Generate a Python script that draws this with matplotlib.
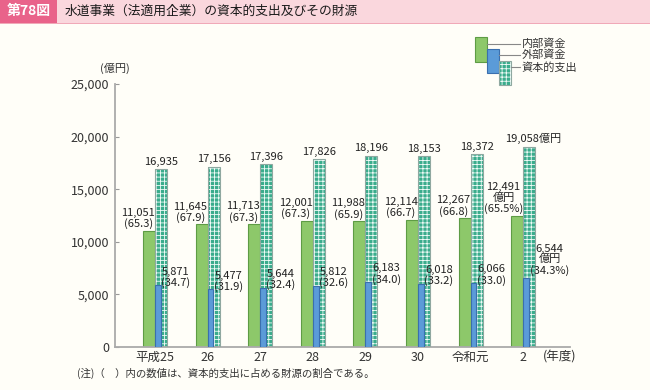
import matplotlib.pyplot as plt
import matplotlib.patches as mpatches
import numpy as np

plt.rcParams['font.family'] = ['Noto Sans CJK JP', 'DejaVu Sans']
plt.rcParams['hatch.linewidth'] = 0.6

years = ['平成25', '26', '27', '28', '29', '30', '令和元', '2']
naibu = [11051, 11645, 11713, 12001, 11988, 12114, 12267, 12491]
gaibu = [5871, 5477, 5644, 5812, 6183, 6018, 6066, 6544]
shishutsu = [16935, 17156, 17396, 17826, 18196, 18153, 18372, 19058]
naibu_pct = [65.3, 67.9, 67.3, 67.3, 65.9, 66.7, 66.8, 65.5]
gaibu_pct = [34.7, 31.9, 32.4, 32.6, 34.0, 33.2, 33.0, 34.3]

bg = '#fffef8'
green = '#8dc86a'
green_e = '#5e9c45'
blue = '#5b9bd8'
blue_e = '#3a6fae'
teal = '#3aac8c'
txt = '#222222'

fig = plt.figure(figsize=(6.5, 3.9), dpi=100, facecolor=bg)
ax = fig.add_axes([115/650, 1-347/390, 455/650, 263/390], facecolor=bg)

x = np.arange(len(years))
w = 0.228
wb = 0.11

ax.bar(x - w, naibu, w, align='edge', color=green, edgecolor=green_e, linewidth=0.8, zorder=2)
ax.bar(x, shishutsu, w, align='edge', color=teal, edgecolor='#f0fbf7', linewidth=0,
       hatch='++++', zorder=2)
ax.bar(x, shishutsu, w, align='edge', fill=False, edgecolor='#8fa8a0', linewidth=0.8, zorder=3)
ax.bar(x, gaibu, wb, align='edge', color=blue, edgecolor=blue_e, linewidth=0.8, zorder=4)

n = len(years)
for i in range(n):
    if i < n - 1:
        ax.text(x[i], naibu[i] + 120, '{:,}\n({:.1f})'.format(naibu[i], naibu_pct[i]),
                ha='right', va='bottom', multialignment='center', fontsize=8,
                linespacing=1.05, color=txt, zorder=5)
        ax.text(x[i] + w/2, shishutsu[i] + 200, '{:,}'.format(shishutsu[i]),
                ha='center', va='bottom', fontsize=8, color=txt, zorder=5)
        ax.text(x[i] + wb + 0.01, gaibu[i] - 250, '{:,}\n({:.1f})'.format(gaibu[i], gaibu_pct[i]),
                ha='left', va='bottom', multialignment='center', fontsize=8,
                linespacing=1.05, color=txt, zorder=5)
    else:
        ax.text(x[i], naibu[i] + 120, '{:,}\n億円\n({:.1f}%)'.format(naibu[i], naibu_pct[i]),
                ha='right', va='bottom', multialignment='center', fontsize=8,
                linespacing=1.05, color=txt, zorder=5)
        ax.text(x[i] - 0.35, shishutsu[i] + 200, '{:,}億円'.format(shishutsu[i]),
                ha='left', va='bottom', fontsize=8, color=txt, zorder=5)
        ax.text(x[i] + wb + 0.02, gaibu[i] + 250, '{:,}\n億円\n({:.1f}%)'.format(gaibu[i], gaibu_pct[i]),
                ha='left', va='bottom', multialignment='center', fontsize=8,
                linespacing=1.05, color=txt, zorder=5)

ax.set_xlim(-0.76, 7.89)
ax.set_ylim(0, 25000)
ax.set_yticks(range(0, 25001, 5000))
ax.set_yticklabels(['{:,}'.format(v) for v in range(0, 25001, 5000)])
ax.set_xticks(x)
ax.set_xticklabels(years)
ax.tick_params(axis='y', direction='in', length=3, color='#999999', labelsize=9,
               labelcolor='#333333', pad=4)
ax.tick_params(axis='x', length=0, labelsize=9, labelcolor='#333333', pad=3)
for s in ['top', 'right']:
    ax.spines[s].set_visible(False)
for s in ['left', 'bottom']:
    ax.spines[s].set_color('#aaaaaa')
    ax.spines[s].set_linewidth(1.3)

fig.text(115/650, 1-68/390, '(億円)', ha='center', va='center', fontsize=8, color='#333333')
fig.text(543/650, 1-357/390, '(年度)', ha='left', va='center', fontsize=9, color='#333333')
fig.text(77/650, 1-373/390, '(注)（　）内の数値は、資本的支出に占める財源の割合である。',
         ha='left', va='center', fontsize=7.5, color='#333333')

# title bar
fig.patches.append(mpatches.Rectangle((0, 1-23/390), 1, 23/390, transform=fig.transFigure,
                                      facecolor='#fad7dd', edgecolor='none', zorder=0))
fig.patches.append(mpatches.Rectangle((0, 1-24/390), 1, 1.5/390, transform=fig.transFigure,
                                      facecolor='#f0a9b8', edgecolor='none', zorder=1))
fig.patches.append(mpatches.Rectangle((0, 1-23/390), 57/650, 23/390, transform=fig.transFigure,
                                      facecolor='#e9638a', edgecolor='none', zorder=1))
fig.text(29/650, 1-11.5/390, '第78図', ha='center', va='center', fontsize=10,
         fontweight='bold', color='white')
fig.text(65/650, 1-11.5/390, '水道事業（法適用企業）の資本的支出及びその財源',
         ha='left', va='center', fontsize=9.2, color='#1a1a1a')

# legend drawn by hand
def px_rect(x0, y0, x1, y1, **kw):
    r = mpatches.Rectangle((x0/650, 1-y1/390), (x1-x0)/650, (y1-y0)/390,
                           transform=fig.transFigure, **kw)
    fig.patches.append(r)

px_rect(475, 37, 487, 62, facecolor=green, edgecolor=green_e, linewidth=0.8)
px_rect(487, 49, 499, 73, facecolor=blue, edgecolor=blue_e, linewidth=0.8)
px_rect(499, 61, 511, 85, facecolor=teal, edgecolor='#f0fbf7', linewidth=0, hatch='++++')
px_rect(499, 61, 511, 85, fill=False, edgecolor='#8fa8a0', linewidth=0.8)

leg_names = ['内部資金', '外部資金', '資本的支出']
leg_y = [44, 55, 67]
leg_x0 = [487, 499, 511]
for name, ly, lx in zip(leg_names, leg_y, leg_x0):
    fig.add_artist(plt.Line2D([lx/650, 520/650], [1-ly/390, 1-ly/390],
                              transform=fig.transFigure, color='#888888', linewidth=0.8))
    fig.text(522/650, 1-ly/390, name, ha='left', va='center', fontsize=8, color='#333333')

fig.savefig('out.png', dpi=100, facecolor=bg)
